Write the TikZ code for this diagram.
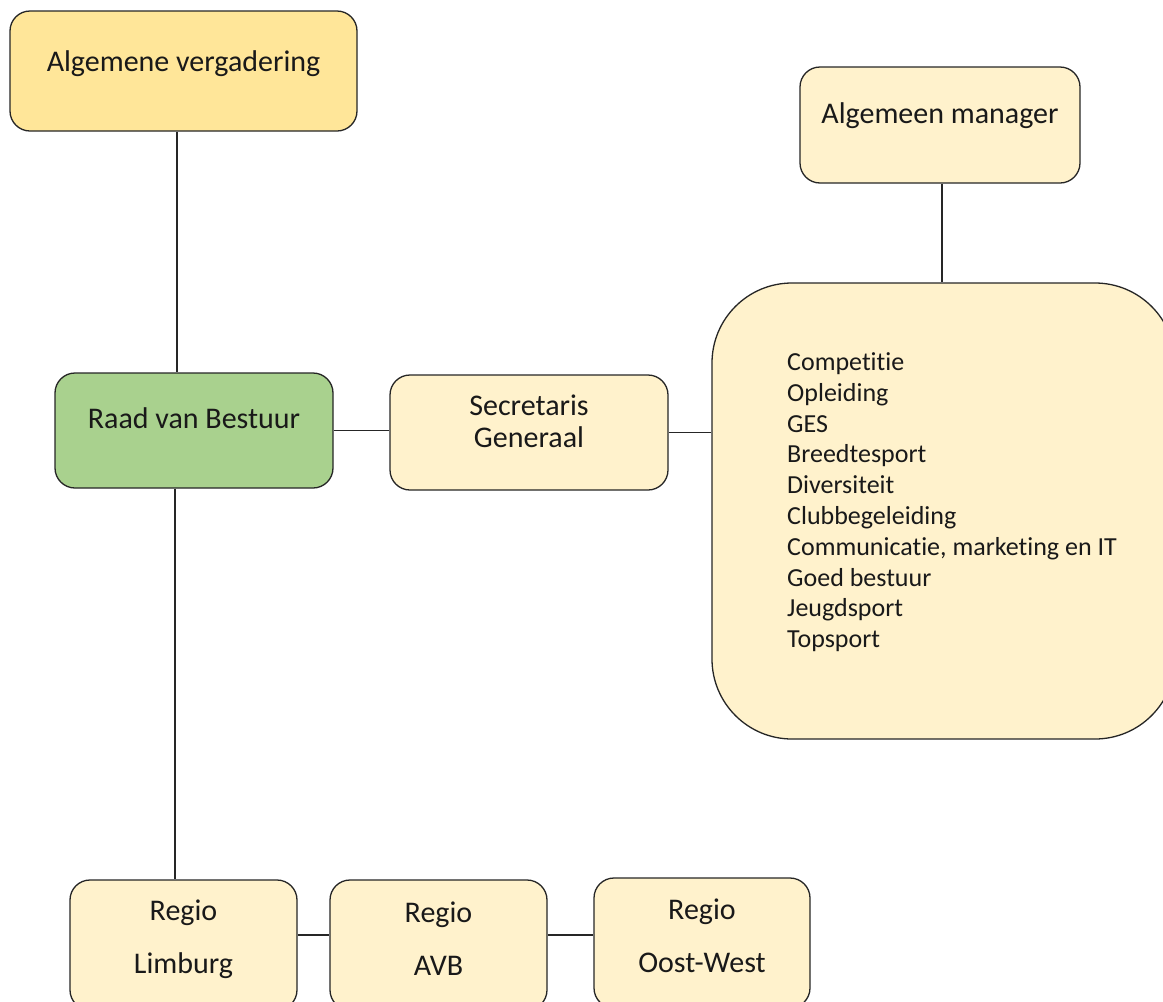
\documentclass[tikz,border=0pt]{standalone}
\usepackage{fontspec}
\setmainfont{Carlito}[Ligatures=NoCommon]
\definecolor{gold}{HTML}{FFE699}
\definecolor{leaf}{HTML}{A9D18E}
\definecolor{cream}{HTML}{FFF2CC}
\begin{document}
\begin{tikzpicture}[x=1pt,y=-1pt,
 box/.style={draw=black!85, line width=1.3pt, rounded corners=20pt, inner sep=0pt},
 lbl/.style={font=\fontsize{30}{32}\selectfont, align=center, inner sep=0pt, anchor=base, text=black!90},
 lst/.style={font=\fontsize{26}{30.8}\selectfont, align=left, inner sep=0pt, anchor=base west, text=black!90},
 conn/.style={line width=1.2pt, draw=black!85}]
\useasboundingbox (0,0) rectangle (1163,1002);
\clip (0,0) rectangle (1163,1002);
% boxes
\node[box, fill=gold, minimum width=347pt, minimum height=120pt] (av) at (183.5,71) {};
\node[box, fill=leaf, minimum width=278pt, minimum height=115pt] (rvb) at (194,430.5) {};
\node[box, fill=cream, minimum width=278pt, minimum height=115pt] (sg) at (529,432.5) {};
\node[box, fill=cream, minimum width=280pt, minimum height=116pt] (am) at (940,125) {};
\node[box, fill=cream, rounded corners=80pt, minimum width=463pt, minimum height=456pt] (dep) at (943.5,511) {};
\node[box, fill=cream, minimum width=227pt, minimum height=130pt] (rl) at (183.5,945) {};
\node[box, fill=cream, minimum width=217pt, minimum height=130pt] (ra) at (438.5,945) {};
\node[box, fill=cream, minimum width=216pt, minimum height=130pt] (ro) at (702,943) {};
% texts (base anchor = baseline of the last line)
\node[lbl] (tav) at (183.5,71.5) {Algemene vergadering};
\node[lbl] (trvb) at (194,428.5) {Raad van Bestuur};
\node[lbl] (tsg) at (529,447) {Secretaris\\Generaal};
\node[lbl] (tam) at (940,123) {Algemeen manager};
\node[lbl, font=\fontsize{30}{52.6}\selectfont] (trl) at (183.5,973.3) {Regio\\Limburg};
\node[lbl, font=\fontsize{30}{52.6}\selectfont] (tra) at (438.5,975) {Regio\\AVB};
\node[lbl, font=\fontsize{30}{52.6}\selectfont] (tro) at (702,972) {Regio\\Oost-West};
\node[lst] (tdep) at (787,647.7) {Competitie\\Opleiding\\GES\\Breedtesport\\Diversiteit\\Clubbegeleiding\\Communicatie, marketing en IT\\Goed bestuur\\Jeugdsport\\Topsport};
% connectors
\coordinate (xa) at (177,0);
\coordinate (xb) at (175,0);
\coordinate (xm) at (942,0);
\draw[conn] (av.south -| xa) -- (rvb.north -| xa);
\draw[conn] (rvb.south -| xb) -- (rl.north -| xb);
\draw[conn] (rvb.east) -- (rvb.east -| sg.west);
\draw[conn] (sg.east) -- (sg.east -| dep.west);
\draw[conn] (am.south -| xm) -- (dep.north -| xm);
\draw[conn] (rl.east |- 0,935) -- (ra.west |- 0,935);
\draw[conn] (ra.east |- 0,935) -- (ro.west |- 0,935);
\end{tikzpicture}
\end{document}
